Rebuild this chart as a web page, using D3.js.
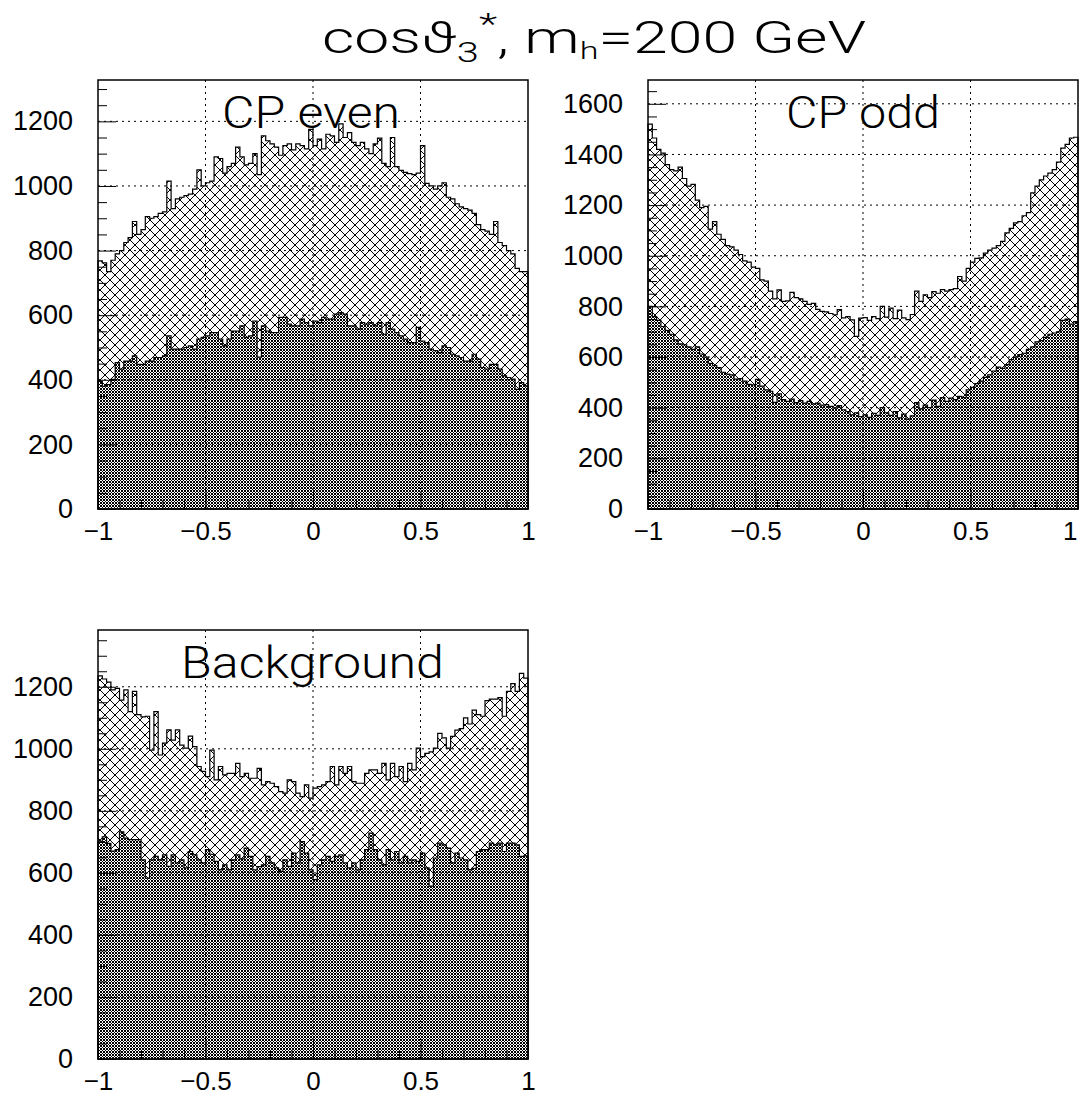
<!DOCTYPE html>
<html>
<head>
<meta charset="utf-8">
<script src="https://cdnjs.cloudflare.com/ajax/libs/d3/7.8.5/d3.min.js"></script>
<style>
	body { margin: 0; background: #fff; }
	svg { display: block; }
	.thin { font-family: Roboto, 'Noto Sans', sans-serif; font-weight: 300; }
</style>
</head>
<body>
<div id="chart"></div>
<script>

// 100 bins of cos theta in [-1, 1]
var xMin = -1, xMax = 1, nBins = 100;

var cpEvenAll = [
	768, 762, 735, 770, 790, 800, 825, 840, 890, 850,
	865, 905, 900, 905, 915, 920, 1015, 930, 960, 965,
	970, 975, 990, 1050, 1000, 1010, 1015, 1090, 1085, 1040,
	1060, 1070, 1120, 1090, 1065, 1070, 1100, 1035, 1155, 1140,
	1130, 1120, 1095, 1125, 1130, 1112, 1130, 1125, 1115, 1175,
	1125, 1145, 1115, 1160, 1155, 1135, 1192, 1150, 1165, 1135,
	1125, 1135, 1115, 1100, 1130, 1148, 1070, 1060, 1150, 1060,
	1048, 1042, 1038, 1035, 1040, 1125, 1008, 1000, 990, 1000,
	1010, 965, 960, 945, 935, 930, 925, 915, 880, 865,
	860, 850, 890, 825, 815, 800, 790, 745, 735, 735
];
var cpEvenSel = [
	395, 380, 385, 401, 453, 433, 458, 458, 474, 448,
	448, 458, 458, 469, 469, 474, 536, 495, 495, 495,
	500, 505, 495, 526, 531, 536, 546, 546, 526, 505,
	526, 551, 551, 567, 531, 536, 582, 470, 567, 551,
	546, 546, 593, 593, 572, 567, 567, 588, 577, 567,
	582, 577, 593, 588, 588, 603, 608, 603, 567, 567,
	557, 577, 572, 577, 567, 577, 541, 577, 557, 546,
	536, 526, 515, 515, 562, 520, 515, 495, 490, 484,
	505, 500, 479, 474, 469, 458, 458, 479, 464, 438,
	433, 448, 448, 433, 412, 407, 402, 370, 391, 381
];

var cpOddAll = [
	1520, 1465, 1420, 1405, 1360, 1340, 1335, 1350, 1305, 1275,
	1282, 1220, 1190, 1195, 1105, 1135, 1085, 1065, 1040, 1035,
	1022, 1005, 980, 975, 955, 950, 905, 900, 860, 830,
	865, 820, 822, 855, 835, 830, 820, 808, 812, 788,
	780, 778, 772, 767, 787, 755, 760, 747, 682, 754,
	756, 745, 760, 752, 800, 758, 793, 752, 785, 755,
	748, 768, 860, 820, 846, 835, 858, 852, 866, 860,
	866, 870, 918, 900, 950, 975, 990, 992, 1010, 1022,
	1030, 1040, 1057, 1090, 1108, 1130, 1135, 1158, 1170, 1248,
	1275, 1300, 1315, 1326, 1340, 1370, 1425, 1440, 1465, 1468
];
var cpOddSel = [
	800, 760, 745, 720, 705, 690, 668, 652, 648, 640,
	630, 640, 612, 600, 575, 566, 558, 540, 533, 530,
	513, 515, 505, 492, 490, 512, 485, 470, 465, 421,
	455, 432, 425, 434, 420, 428, 418, 425, 415, 418,
	410, 412, 405, 398, 408, 392, 385, 372, 380, 365,
	372, 362, 378, 370, 400, 380, 370, 385, 360, 375,
	355, 368, 420, 395, 410, 400, 430, 405, 440, 425,
	438, 432, 445, 440, 470, 480, 495, 505, 520, 530,
	545, 560, 555, 570, 590, 600, 610, 615, 630, 640,
	660, 665, 678, 690, 695, 700, 745, 750, 730, 740
];

var bkgAll = [
	1235, 1225, 1215, 1190, 1195, 1157, 1190, 1120, 1185, 1110,
	1103, 1105, 996, 1120, 980, 1018, 1061, 1028, 1061, 1012,
	1002, 1041, 1007, 943, 927, 910, 996, 900, 943, 916,
	921, 921, 953, 910, 921, 905, 905, 937, 884, 894,
	889, 878, 862, 857, 900, 894, 857, 846, 884, 841,
	873, 878, 884, 894, 943, 884, 943, 921, 943, 894,
	889, 889, 921, 932, 932, 921, 953, 900, 953, 910,
	943, 894, 953, 932, 1002, 975, 985, 990, 1002, 1050,
	1035, 1002, 1040, 1060, 1065, 1100, 1080, 1125, 1110, 1105,
	1155, 1160, 1160, 1165, 1105, 1185, 1210, 1185, 1243, 1228
];
var bkgSel = [
	700, 716, 695, 670, 675, 732, 712, 707, 707, 707,
	642, 583, 642, 653, 642, 658, 621, 658, 632, 642,
	616, 669, 658, 642, 632, 675, 660, 637, 610, 626,
	610, 642, 658, 645, 680, 653, 610, 620, 626, 653,
	632, 616, 605, 642, 621, 664, 632, 701, 664, 610,
	578, 626, 642, 653, 637, 653, 658, 632, 616, 632,
	610, 642, 675, 728, 675, 642, 626, 675, 642, 669,
	632, 653, 632, 642, 637, 664, 616, 557, 648, 696,
	690, 680, 632, 664, 648, 642, 610, 615, 669, 675,
	675, 696, 690, 696, 669, 696, 696, 690, 653, 655
];

var xTicksMajor = [-1, -0.5, 0, 0.5, 1];
var xTicksMinor = [-0.9, -0.8, -0.7, -0.6, -0.4, -0.3, -0.2, -0.1, 0.1, 0.2, 0.3, 0.4, 0.6, 0.7, 0.8, 0.9];
var xGrid = [-0.5, 0, 0.5];
var yTicksEven = [0, 200, 400, 600, 800, 1000, 1200];
var yTicksOdd = [0, 200, 400, 600, 800, 1000, 1200, 1400, 1600];
var yTicksBkg = [0, 200, 400, 600, 800, 1000, 1200];
var panelLabels = ["CP even", "CP odd", "Background"];
var yMaxes = [1328, 1694, 1383];

var W = 1080, H = 1095;
var pw = 430, ph = 429;

var panels = [
	{ label: panelLabels[0], all: cpEvenAll, sel: cpEvenSel, ymax: yMaxes[0], ticks: yTicksEven, left: 98, top: 80, labelX: 222, labelW: 178 },
	{ label: panelLabels[1], all: cpOddAll, sel: cpOddSel, ymax: yMaxes[1], ticks: yTicksOdd, left: 648, top: 80, labelX: 786, labelW: 154 },
	{ label: panelLabels[2], all: bkgAll, sel: bkgSel, ymax: yMaxes[2], ticks: yTicksBkg, left: 98, top: 630, labelX: 181, labelW: 263 }
];

var svg = d3.select("#chart").append("svg")
	.attr("width", W)
	.attr("height", H);

var defs = svg.append("defs");

// open cross hatch
var pLight = defs.append("pattern")
	.attr("id", "hatchLight")
	.attr("patternUnits", "userSpaceOnUse")
	.attr("width", 10)
	.attr("height", 10);
for (var i = 0; i < 10; i++) {
	pLight.append("rect").attr("x", i).attr("y", i).attr("width", 1).attr("height", 1).attr("fill", "#000");
	pLight.append("rect").attr("x", 9 - i).attr("y", i).attr("width", 1).attr("height", 1).attr("fill", "#000");
}

// dense cross hatch
var pDark = defs.append("pattern")
	.attr("id", "hatchDark")
	.attr("patternUnits", "userSpaceOnUse")
	.attr("width", 3)
	.attr("height", 3);
pDark.append("rect").attr("width", 3).attr("height", 3).attr("fill", "#fff");
[[0, 0], [1, 1], [2, 1], [1, 2], [2, 2]].forEach(function(p) {
	pDark.append("rect").attr("x", p[0]).attr("y", p[1]).attr("width", 1).attr("height", 1).attr("fill", "#000");
});

// title
var title = svg.append("text")
	.attr("class", "thin")
	.attr("x", 322)
	.attr("y", 53)
	.attr("textLength", 544)
	.attr("lengthAdjust", "spacingAndGlyphs")
	.style("font-size", "44px");
title.append("tspan").text("cos\u03d1");
title.append("tspan").attr("dy", 9).style("font-size", "28px").text("3");
title.append("tspan").attr("dy", -28).style("font-size", "30px").text("*");
title.append("tspan").attr("dy", 19).text(", m");
title.append("tspan").attr("dy", 6).style("font-size", "24px").text("h");
title.append("tspan").attr("dy", -6).text("=200 GeV");

function fmtX(d) {
	if (d === 0) return "0";
	return (d < 0 ? "\u2212" : "") + Math.abs(d);
}

panels.forEach(function(p) {

	var x = d3.scaleLinear()
		.domain([xMin, xMax])
		.range([p.left, p.left + pw]);

	var y = d3.scaleLinear()
		.domain([0, p.ymax])
		.range([p.top + ph, p.top]);

	var binW = (xMax - xMin) / nBins;

	function stepPath(vals) {
		var path = d3.path();
		path.moveTo(x(xMin), y(0));
		vals.forEach(function(v, i) {
			path.lineTo(x(xMin + i * binW), y(v));
			path.lineTo(x(xMin + (i + 1) * binW), y(v));
		});
		path.lineTo(x(xMax), y(0));
		path.closePath();
		return path.toString();
	}

	var g = svg.append("g");

	g.append("path")
		.attr("d", stepPath(p.all))
		.attr("fill", "url(#hatchLight)")
		.attr("stroke", "#000")
		.attr("stroke-width", 1.2);

	g.append("path")
		.attr("d", stepPath(p.sel))
		.attr("fill", "url(#hatchDark)")
		.attr("stroke", "#000")
		.attr("stroke-width", 1.2);

	// dotted grid
	g.selectAll(".gy")
		.data(p.ticks.filter(function(d) { return d > 0; }))
		.enter()
		.append("line")
			.attr("x1", p.left)
			.attr("x2", p.left + pw)
			.attr("y1", function(d) { return y(d); })
			.attr("y2", function(d) { return y(d); })
			.attr("stroke", "#000")
			.attr("stroke-width", 1)
			.attr("stroke-dasharray", "2,4");

	g.selectAll(".gx")
		.data(xGrid)
		.enter()
		.append("line")
			.attr("x1", function(d) { return x(d); })
			.attr("x2", function(d) { return x(d); })
			.attr("y1", p.top)
			.attr("y2", p.top + ph)
			.attr("stroke", "#000")
			.attr("stroke-width", 1)
			.attr("stroke-dasharray", "2,4");

	// minor ticks every 50
	var yMinor = d3.range(50, p.ymax, 50).filter(function(d) { return d % 200 !== 0; });

	var yMinAxis = g.append("g")
		.attr("transform", "translate(" + p.left + ",0)")
		.call(d3.axisLeft(y).tickValues(yMinor).tickSize(-9).tickFormat(""));
	yMinAxis.select(".domain").remove();

	var yAxisG = g.append("g")
		.attr("transform", "translate(" + p.left + ",0)")
		.call(d3.axisLeft(y).tickValues(p.ticks).tickSize(-18).tickPadding(25).tickFormat(d3.format("d")));
	yAxisG.select(".domain").remove();
	yAxisG.selectAll("text")
		.style("font-family", "'Liberation Sans', Arial, sans-serif")
		.style("font-size", "27px")
		.attr("fill", "#000");

	var xMinAxis = g.append("g")
		.attr("transform", "translate(0," + (p.top + ph) + ")")
		.call(d3.axisBottom(x).tickValues(xTicksMinor).tickSize(-9).tickFormat(""));
	xMinAxis.select(".domain").remove();

	var xAxisG = g.append("g")
		.attr("transform", "translate(0," + (p.top + ph) + ")")
		.call(d3.axisBottom(x).tickValues(xTicksMajor).tickSize(-18).tickPadding(13).tickFormat(fmtX));
	xAxisG.select(".domain").remove();
	xAxisG.selectAll("text")
		.style("font-family", "'Liberation Sans', Arial, sans-serif")
		.style("font-size", "26px")
		.attr("fill", "#000");

	// keep the right-hand "1" inside the page
	if (p.left + pw > W - 10) {
		xAxisG.selectAll("text")
			.filter(function(d) { return d === xMax; })
			.attr("text-anchor", "end")
			.attr("x", -1);
	}

	g.selectAll(".tick line").attr("stroke", "#000");

	g.append("rect")
		.attr("x", p.left)
		.attr("y", p.top)
		.attr("width", pw)
		.attr("height", ph)
		.attr("fill", "none")
		.attr("stroke", "#000")
		.attr("stroke-width", 1.5);

	g.append("text")
		.attr("class", "thin")
		.attr("x", p.labelX)
		.attr("y", p.top + 48)
		.attr("textLength", p.labelW)
		.attr("lengthAdjust", "spacingAndGlyphs")
		.style("font-size", "44px")
		.text(p.label);

});

</script>
</body>
</html>
